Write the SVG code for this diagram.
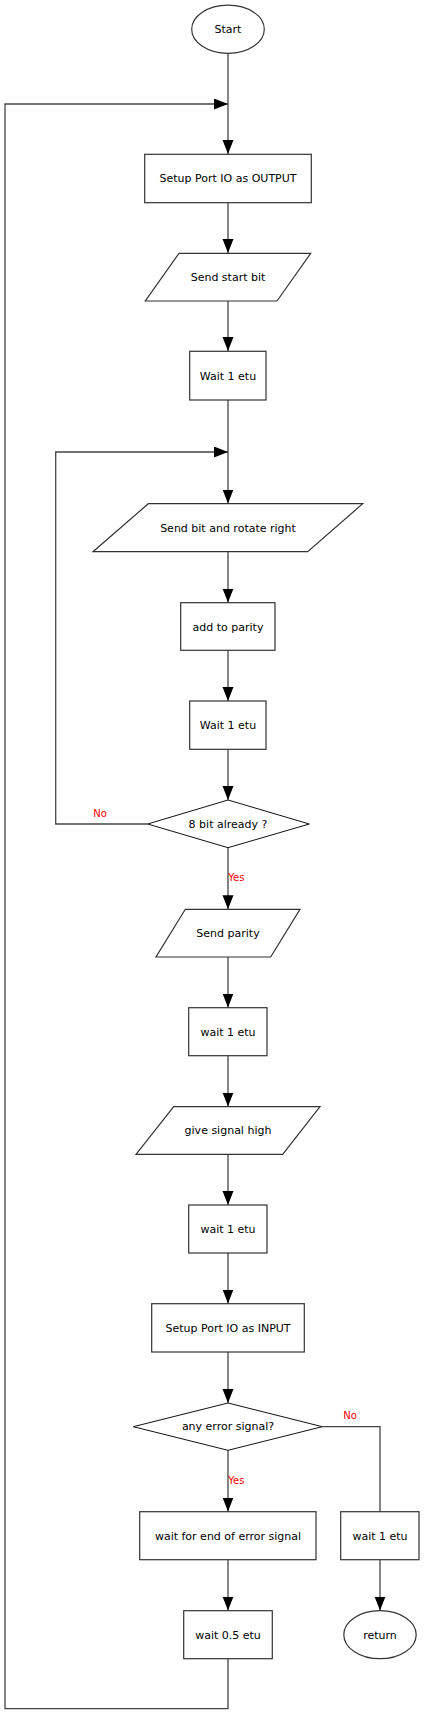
<svg xmlns="http://www.w3.org/2000/svg" width="424" height="1715" viewBox="0 0 424 1715">
<style>
.n{fill:#fff;stroke:#333;stroke-width:1.2}
.d{fill:#fff;stroke:#111;stroke-width:1}
.t{font-family:"DejaVu Sans",sans-serif;font-size:11px;fill:#000;text-anchor:middle}
.c{fill:none;stroke:#444;stroke-width:1.3}
.l{font-family:"DejaVu Sans",sans-serif;font-size:10px;fill:#ff0000}
</style>
<defs>
<marker id="a" markerUnits="userSpaceOnUse" markerWidth="15" markerHeight="12" refX="14" refY="5.5" orient="auto" viewBox="0 0 15 12">
<path d="M0,0 L14,5.5 L0,11 z" fill="#000"/>
</marker>
</defs>
<rect width="424" height="1715" fill="#fff"/>
<g id="connectors">
<path class="c" d="M228,53.3 V154" marker-end="url(#a)"/>
<path class="c" d="M228,1658.7 V1708.7 H5 V104 H228" marker-end="url(#a)"/>
<path class="c" d="M228,202.7 V253" marker-end="url(#a)"/>
<path class="c" d="M228,301 V351" marker-end="url(#a)"/>
<path class="c" d="M228,400 V503.5" marker-end="url(#a)"/>
<path class="c" d="M147.7,824 H55.7 V452 H228" marker-end="url(#a)"/>
<path class="c" d="M228,551.7 V602.5" marker-end="url(#a)"/>
<path class="c" d="M228,650.3 V701" marker-end="url(#a)"/>
<path class="c" d="M228,749.3 V800" marker-end="url(#a)"/>
<path class="c" d="M228,847.7 V909.3" marker-end="url(#a)"/>
<path class="c" d="M228,957 V1007.5" marker-end="url(#a)"/>
<path class="c" d="M228,1055.7 V1106.5" marker-end="url(#a)"/>
<path class="c" d="M228,1154.3 V1205" marker-end="url(#a)"/>
<path class="c" d="M228,1253 V1303.5" marker-end="url(#a)"/>
<path class="c" d="M228,1352 V1403" marker-end="url(#a)"/>
<path class="c" d="M228,1450.3 V1511.5" marker-end="url(#a)"/>
<path class="c" d="M322.3,1426.7 H380 V1511.7"/>
<path class="c" d="M228,1559.7 V1610.5" marker-end="url(#a)"/>
<path class="c" d="M380,1559.7 V1610.5" marker-end="url(#a)"/>
<text class="l" x="93.3" y="817.3">No</text>
<text class="l" x="228.3" y="881.3">Yes</text>
<text class="l" x="343.3" y="1419.3">No</text>
<text class="l" x="228.3" y="1484">Yes</text>
</g>
<g id="start">
<ellipse class="n" cx="228" cy="29.2" rx="36.3" ry="24.1"/>
<text class="t" x="228" y="33">Start</text>
</g>
<g id="setup-output">
<rect class="n" x="144.7" y="154.3" width="166.6" height="48.4"/>
<text class="t" x="228" y="182">Setup Port IO as OUTPUT</text>
</g>
<g id="send-start-bit">
<polygon class="n" points="179,253.3 310.7,253.3 277,301 145.3,301"/>
<text class="t" x="228" y="281">Send start bit</text>
</g>
<g id="wait1">
<rect class="n" x="189.7" y="351.3" width="76.3" height="48.7"/>
<text class="t" x="228" y="379.5">Wait 1 etu</text>
</g>
<g id="send-bit">
<polygon class="n" points="148.3,503.7 362.7,503.7 307.7,551.7 93,551.7"/>
<text class="t" x="228" y="531.5">Send bit and rotate right</text>
</g>
<g id="add-parity">
<rect class="n" x="180.7" y="602.7" width="94.3" height="47.6"/>
<text class="t" x="228" y="630.5">add to parity</text>
</g>
<g id="wait2">
<rect class="n" x="189.7" y="701" width="76.3" height="48.3"/>
<text class="t" x="228" y="728.5">Wait 1 etu</text>
</g>
<g id="eight-bit">
<polygon class="d" points="228,800 309.3,824 228,847.7 147.7,824"/>
<text class="t" x="228" y="827.5">8 bit already ?</text>
</g>
<g id="send-parity">
<polygon class="n" points="185.3,909.3 300,909.3 270.7,957 156,957"/>
<text class="t" x="228" y="936.5">Send parity</text>
</g>
<g id="wait3">
<rect class="n" x="188.7" y="1007.7" width="78.3" height="48"/>
<text class="t" x="228" y="1035.5">wait 1 etu</text>
</g>
<g id="signal-high">
<polygon class="n" points="173.7,1106.7 320,1106.7 282.7,1154.3 136,1154.3"/>
<text class="t" x="228" y="1133.5">give signal high</text>
</g>
<g id="wait4">
<rect class="n" x="188.7" y="1205" width="78.3" height="48"/>
<text class="t" x="228" y="1232.5">wait 1 etu</text>
</g>
<g id="setup-input">
<rect class="n" x="151.7" y="1303.7" width="152.6" height="48.3"/>
<text class="t" x="228" y="1331.5">Setup Port IO as INPUT</text>
</g>
<g id="error">
<polygon class="d" points="228,1403 322.3,1426.7 228,1450.3 133.3,1426.7"/>
<text class="t" x="228" y="1430">any error signal?</text>
</g>
<g id="wait-end-error">
<rect class="n" x="139.7" y="1511.7" width="176.3" height="48"/>
<text class="t" x="228" y="1539.5">wait for end of error signal</text>
</g>
<g id="wait-half">
<rect class="n" x="183.7" y="1610.7" width="88.6" height="48"/>
<text class="t" x="228" y="1638.5">wait 0.5 etu</text>
</g>
<g id="wait5">
<rect class="n" x="340.7" y="1511.7" width="78.3" height="48"/>
<text class="t" x="380" y="1539.5">wait 1 etu</text>
</g>
<g id="return">
<ellipse class="n" cx="380" cy="1634.7" rx="36.2" ry="24"/>
<text class="t" x="380" y="1638.5">return</text>
</g>
</svg>
